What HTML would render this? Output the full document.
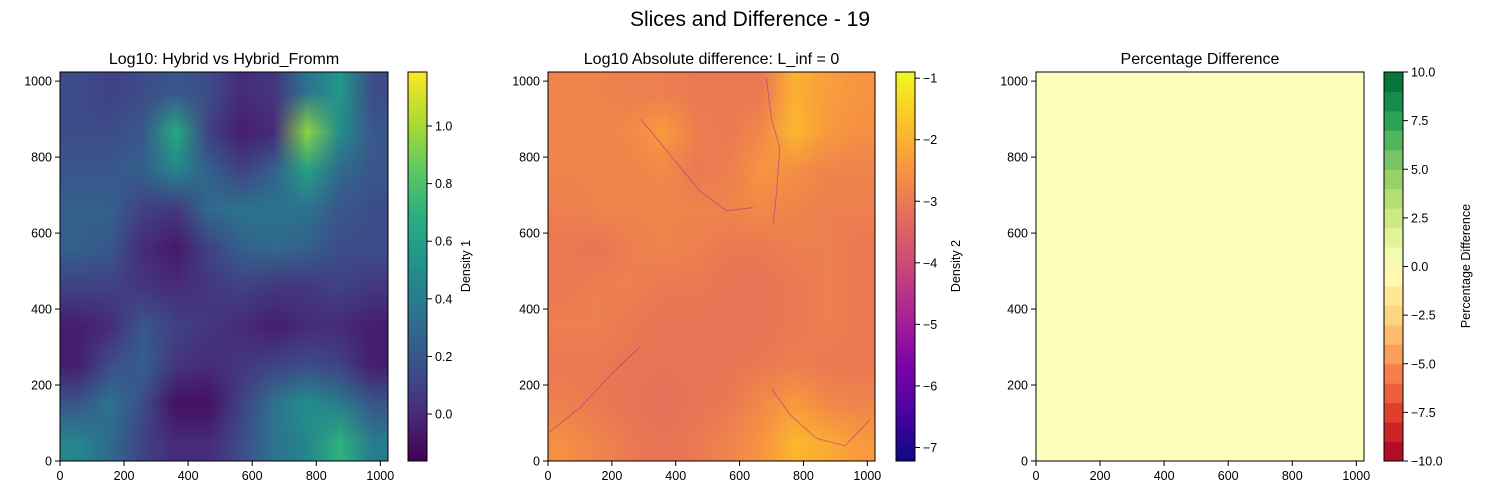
<!DOCTYPE html>
<html><head><meta charset="utf-8">
<style>
body{margin:0;background:#fff;width:1500px;height:500px;overflow:hidden;position:relative;font-family:"Liberation Sans","DejaVu Sans",sans-serif;}
canvas{position:absolute;image-rendering:auto;}
svg{position:absolute;left:0;top:0;}
</style></head><body>
<canvas id="c1" width="10" height="10" style="left:60px;top:72px;width:328px;height:389px"></canvas>
<canvas id="c2" width="10" height="10" style="left:548px;top:72px;width:327px;height:389px"></canvas>
<svg id="s" width="1500" height="500"></svg>
<script>
// ---- data ----
const gridX=[51,154,256,358,461,563,666,768,870,973];
const gridY=[973,870,768,666,563,461,358,256,154,51];
const density1=[
[0.15,0.1,0.15,0.2,0.15,0.0,0.05,0.35,0.55,0.15],
[0.15,0.15,0.2,0.65,0.1,-0.05,0.0,0.95,0.5,0.2],
[0.2,0.2,0.25,0.45,0.25,0.1,0.25,0.6,0.3,0.2],
[0.25,0.25,0.1,0.05,0.3,0.35,0.35,0.35,0.2,0.15],
[0.25,0.2,0.0,-0.07,0.1,0.25,0.3,0.25,0.15,0.15],
[0.1,0.1,0.05,0.0,0.05,0.1,0.05,0.05,0.1,0.05],
[-0.05,0.0,0.2,0.1,0.05,0.0,-0.05,0.0,0.0,-0.05],
[-0.05,0.15,0.25,0.05,0.0,0.05,0.1,0.15,0.1,-0.05],
[0.2,0.35,0.15,-0.1,-0.1,0.1,0.35,0.5,0.4,0.2],
[0.45,0.3,0.1,0.0,0.0,0.15,0.35,0.45,0.7,0.4]];
const absdiff=[
[-2.8,-2.8,-2.9,-2.9,-3.0,-3.0,-3.0,-2.0,-2.3,-2.5],
[-2.8,-2.8,-2.7,-2.4,-2.9,-3.0,-2.7,-1.9,-2.4,-2.6],
[-2.8,-2.8,-2.8,-2.7,-3.0,-2.9,-2.5,-2.6,-2.8,-2.8],
[-2.9,-2.8,-2.8,-2.8,-2.8,-2.8,-2.7,-2.8,-2.9,-2.9],
[-3.0,-3.1,-2.9,-2.8,-2.9,-3.0,-3.0,-2.9,-2.9,-3.0],
[-3.0,-2.9,-2.9,-3.0,-3.0,-3.1,-3.1,-3.0,-2.9,-3.0],
[-2.9,-2.9,-3.0,-3.1,-3.1,-3.1,-3.1,-3.0,-2.9,-3.0],
[-3.0,-3.0,-3.1,-3.1,-3.1,-3.1,-3.0,-2.9,-3.0,-3.0],
[-2.9,-3.0,-3.1,-3.2,-3.1,-3.0,-2.7,-2.4,-2.7,-2.8],
[-2.6,-2.8,-3.0,-3.1,-3.0,-2.8,-2.5,-1.9,-2.1,-2.4]];
const lineA_x=[6,100,200,288];const lineA_y=[77,140,230,301];
const lineB_x=[290,371,475,559,642];const lineB_y=[900,817,711,659,667];
const lineC_x=[684,700,726,715,705];const lineC_y=[1008,900,824,700,622];
const lineD_x=[700,760,840,930,1010];const lineD_y=[190,120,60,40,110];
const pctValue=0;
const axisTicks=[0,200,400,600,800,1000];
const cb1Ticks=[0.0,0.2,0.4,0.6,0.8,1.0];
const cb2Ticks=[-7,-6,-5,-4,-3,-2,-1];
const cb3Ticks=[-10,-7.5,-5,-2.5,0,2.5,5,7.5,10];

// ---- colormaps ----
function hex(h){return [1,3,5].map(i=>parseInt(h.substr(i,2),16));}
function cm(stops,t){t=Math.max(0,Math.min(1,t));const n=stops.length-1;const i=Math.min(n-1,Math.floor(t*n));const f=t*n-i;const a=hex(stops[i]),b=hex(stops[i+1]);return 'rgb('+a.map((v,k)=>Math.round(v+(b[k]-v)*f)).join(',')+')';}
const VIR=['#440154','#472d7b','#3b528b','#2c728e','#21918c','#28ae80','#5ec962','#addc30','#fde725'];
const PLA=['#0d0887','#4c02a1','#7e03a8','#a92395','#cc4778','#e56b5d','#f89540','#fdc328','#f0f921'];
const RYG=['#a50026','#d73027','#f46d43','#fdae61','#fee08b','#ffffbf','#d9ef8b','#a6d96a','#66bd63','#1a9850','#006837'];
const v1min=-0.163,v1max=1.1875,v2min=-7.22,v2max=-0.9;

function paint(id,data,cmap,lo,hi){const ctx=document.getElementById(id).getContext('2d');
data.forEach((row,j)=>row.forEach((v,i)=>{ctx.fillStyle=cm(cmap,(v-lo)/(hi-lo));ctx.fillRect(i,j,1,1);}));}
paint('c1',density1,VIR,v1min,v1max);
paint('c2',absdiff,PLA,v2min,v2max);

const S=document.getElementById('s');const NS='http://www.w3.org/2000/svg';
function el(tag,attrs,txt){const e=document.createElementNS(NS,tag);for(const k in attrs)e.setAttribute(k,attrs[k]);if(txt!==undefined)e.textContent=txt;S.appendChild(e);return e;}

const panels=[{l:60,r:388,t:72,b:461,cbl:408,title:'Log10: Hybrid vs Hybrid_Fromm'},
{l:548,r:875,t:72,b:461,cbl:896,title:'Log10 Absolute difference: L_inf = 0'},
{l:1036,r:1364,t:72,b:461,cbl:1384,title:'Percentage Difference'}];
const xs=(p,v)=>p.l+(v/1024)*(p.r-p.l);
const ys=(p,v)=>p.b-(v/1024)*(p.b-p.t);

// panel 3 fill
let r3=el('rect',{x:1036,y:72,width:328,height:389,fill:cm(RYG,(pctValue+10)/20+0.005)});


// panel 2 purple lines
[[lineA_x,lineA_y],[lineB_x,lineB_y],[lineC_x,lineC_y],[lineD_x,lineD_y]].forEach((L,k)=>{
 const d=L[0].map((x,i)=>(i?'L':'M')+xs(panels[1],x).toFixed(1)+','+ys(panels[1],L[1][i]).toFixed(1)).join(' ');
 const p=el('path',{d:d,fill:'none',stroke:'#9a2a9a','stroke-width':1,'stroke-opacity':0.5});
 
});

// suptitle
let st=el('text',{x:750,y:26,'text-anchor':'middle','font-size':21,fill:'#000'},'Slices and Difference - 19');


panels.forEach((p,pi)=>{
 let f=el('rect',{x:p.l,y:p.t,width:p.r-p.l,height:p.b-p.t,fill:'none',stroke:'#000','stroke-width':1});
 
 let t=el('text',{x:(p.l+p.r)/2,y:64,'text-anchor':'middle','font-size':16,fill:'#000'},p.title);
 
 axisTicks.forEach(v=>{
  const x=xs(p,v),y=ys(p,v);
  el('line',{x1:x,x2:x,y1:p.b,y2:p.b+5,stroke:'#000'});
  let a=el('text',{x:x,y:p.b+19,'text-anchor':'middle','font-size':12.5,fill:'#000'},String(v));
  
  el('line',{x1:p.l-5,x2:p.l,y1:y,y2:y,stroke:'#000'});
  let b=el('text',{x:p.l-8,y:y+4.5,'text-anchor':'end','font-size':12.5,fill:'#000'},String(v));
  
 });
 const cw=19,cb=p.cbl;
 if(pi<2){
  const id='g'+pi;const defs=el('defs',{});const g=document.createElementNS(NS,'linearGradient');
  g.setAttribute('id',id);g.setAttribute('x1','0');g.setAttribute('y1','1');g.setAttribute('x2','0');g.setAttribute('y2','0');
  const stops=pi==0?VIR:PLA;stops.forEach((c,i)=>{const s=document.createElementNS(NS,'stop');s.setAttribute('offset',i/(stops.length-1));s.setAttribute('stop-color',c);g.appendChild(s);});
  defs.appendChild(g);
  let r=el('rect',{x:cb,y:p.t,width:cw,height:p.b-p.t,fill:'url(#'+id+')',stroke:'#000','stroke-width':1});
  
  const lo=pi==0?v1min:v2min,hi=pi==0?v1max:v2max,ticks=pi==0?cb1Ticks:cb2Ticks;
  ticks.forEach(v=>{const y=p.b-(v-lo)/(hi-lo)*(p.b-p.t);
   el('line',{x1:cb+cw,x2:cb+cw+5,y1:y,y2:y,stroke:'#000'});
   let tx=el('text',{x:cb+cw+8,y:y+4.5,'font-size':12.5,fill:'#000'},pi==0?v.toFixed(1):(v<0?'\u2212'+(-v):String(v)));
   });
 } else {
  for(let i=0;i<20;i++){const h=(p.b-p.t)/20;
   el('rect',{x:cb,y:p.b-(i+1)*h,width:cw,height:h+0.5,fill:cm(RYG,(i+0.5)/20)});}
  let r=el('rect',{x:cb,y:p.t,width:cw,height:p.b-p.t,fill:'none',stroke:'#000','stroke-width':1});
  
  cb3Ticks.forEach(v=>{const y=p.b-(v+10)/20*(p.b-p.t);
   el('line',{x1:cb+cw,x2:cb+cw+5,y1:y,y2:y,stroke:'#000'});
   let tx=el('text',{x:cb+cw+8,y:y+4.5,'font-size':12.5,fill:'#000'},(v<0?'\u2212':'')+Math.abs(v).toFixed(1));
   });
 }
});
[[470,'Density 1'],[960,'Density 2'],[1470,'Percentage Difference']].forEach(([x,s],i)=>{
 let t=el('text',{x:x,y:266,'text-anchor':'middle','font-size':12.5,fill:'#000',transform:'rotate(-90 '+x+' 266)'},s);
 
});
</script>
</body></html>
